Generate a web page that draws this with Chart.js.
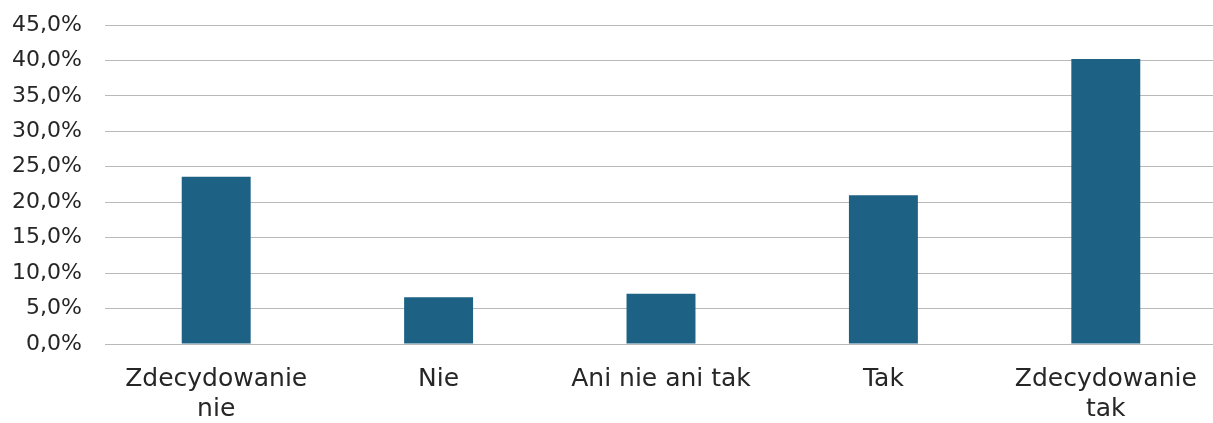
<!DOCTYPE html>
<html>
<head>
<meta charset="utf-8">
<script src="https://cdn.jsdelivr.net/npm/chart.js@4.4.1/dist/chart.umd.min.js"></script>
<style>
  html, body { margin:0; padding:0; background:#fff; overflow:hidden; }
  #wrap { width:1217px; height:423px; }
</style>
</head>
<body>
<div id="wrap"><canvas id="chart-bars" width="1217" height="423"></canvas></div>
<script>
// Odpowiedzi (% respondentów)
const categories = [['Zdecydowanie', 'nie'], 'Nie', 'Ani nie ani tak', 'Tak', ['Zdecydowanie', 'tak']];
const values = [23.6, 6.6, 7.1, 21.0, 40.2];
const yTicks = [0, 5, 10, 15, 20, 25, 30, 35, 40, 45];

function formatPct(v){
  return v.toFixed(1).replace('.', ',') + '%';
}

const ctx = document.getElementById('chart-bars');

new Chart(ctx, {
  type: 'bar',
  data: {
    labels: categories,
    datasets: [{
      data: values,
      backgroundColor: '#1d6185',
      borderWidth: 0,
      barPercentage: 0.31,
      categoryPercentage: 1
    }]
  },
  options: {
    responsive: false,
    animation: false,
    layout: { padding: { left: 10, top: 25, right: 0, bottom: 0 } },
    plugins: { legend: { display: false }, tooltip: { enabled: false } },
    scales: {
      x: {
        afterFit: s => { s.height = 79; },
        grid: { display: false, drawTicks: false },
        border: { display: false },
        ticks: {
          padding: 20,
          color: '#262626',
          font: { family: 'DejaVu Sans', size: 25, lineHeight: 1.2 },
          maxRotation: 0,
          autoSkip: false
        }
      },
      y: {
        min: 0,
        max: 45,
        // fixed axis width; tick padding shouldn't push the plot down
        afterFit: s => { s.width = 95; s.paddingTop = 0; s.paddingBottom = 0; },
        afterBuildTicks: scale => { scale.ticks = yTicks.map(v => ({ value: v })); },
        grid: { color: '#b9b9b9', lineWidth: 1, drawTicks: false },
        border: { display: false },
        ticks: {
          padding: 23,
          color: '#262626',
          font: { family: 'DejaVu Sans', size: 22 },
          callback: v => formatPct(v)
        }
      }
    }
  }
});
</script>
</body>
</html>
